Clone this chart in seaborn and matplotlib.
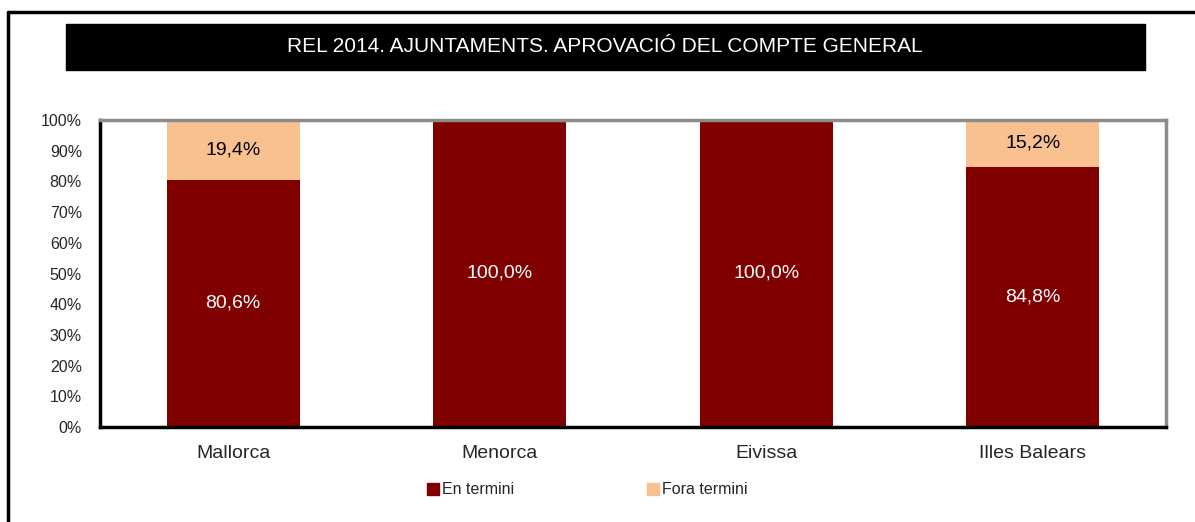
# REL 2014 - aprovació del compte general (ajuntaments)
import matplotlib
matplotlib.use("Agg")
import matplotlib.pyplot as plt
import seaborn as sns
import pandas as pd
from matplotlib.patches import Rectangle
from matplotlib.lines import Line2D

sns.set_style("white")
plt.rcParams["font.family"] = ["Liberation Sans", "DejaVu Sans"]

# Data
illes = ["Mallorca", "Menorca", "Eivissa", "Illes Balears"]
en_termini = [80.6, 100.0, 100.0, 84.8]
fora_termini = [19.4, 0.0, 0.0, 15.2]
title = "REL 2014. AJUNTAMENTS. APROVACIÓ DEL COMPTE GENERAL"

col_en = "#800000"
col_fora = "#F9C190"

df = pd.DataFrame({"illa": illes, "en": en_termini, "fora": fora_termini})
df["total"] = df["en"] + df["fora"]

fig = plt.figure(figsize=(11.95, 5.22), dpi=100)
ax = fig.add_axes([100 / 1195, 1 - 427 / 522, 1066 / 1195, 307 / 522])

# stacked bars: total (peach) first, then the dark red part over it
sns.barplot(data=df, x="illa", y="total", color=col_fora, width=0.5,
            saturation=1, ax=ax, linewidth=0)
sns.barplot(data=df, x="illa", y="en", color=col_en, width=0.5,
            saturation=1, ax=ax, linewidth=0)

# labels
for i, row in df.iterrows():
    ax.text(i, row["en"] / 2, f"{row['en']:.1f}%".replace(".", ","),
            ha="center", va="center", color="white", fontsize=14)
    if row["fora"] > 0:
        ax.text(i, row["en"] + row["fora"] / 2,
                f"{row['fora']:.1f}%".replace(".", ","),
                ha="center", va="center", color="black", fontsize=14)

ax.set_xlim(-0.5, len(illes) - 0.5)
ax.set_ylim(0, 100)
ax.set_yticks(range(0, 101, 10))
ax.set_yticklabels([f"{v}%" for v in range(0, 101, 10)], fontsize=11.5)
ax.set_xticks([i - 0.5 for i in range(len(illes) + 1)])
ax.set_xticklabels([])
ax.set_xticks(range(len(illes)), minor=True)
ax.set_xticklabels(illes, minor=True, fontsize=14)
ax.tick_params(axis="x", which="minor", length=0, pad=13)
ax.tick_params(axis="x", which="major", direction="out", length=5, width=2.5, color="black")
ax.tick_params(axis="y", direction="out", length=5, width=2.5, color="black", pad=8)
ax.set_xlabel("")
ax.set_ylabel("")

for side in ["left", "bottom"]:
    ax.spines[side].set_color("black")
    ax.spines[side].set_linewidth(2.5)
for side in ["top", "right"]:
    ax.spines[side].set_color("#8c8c8c")
    ax.spines[side].set_linewidth(2.5)

# legend
handles = [Rectangle((0, 0), 1, 1, color=col_en), Rectangle((0, 0), 1, 1, color=col_fora)]
fig.legend(handles, ["En termini", "Fora termini"], loc="center",
           bbox_to_anchor=(587 / 1195, 1 - 490 / 522), ncol=2, frameon=False,
           fontsize=11.5, handlelength=0.75, handleheight=0.75, handletextpad=0.2,
           columnspacing=8.3)

# title box
fig.patches.append(Rectangle((66 / 1195, 1 - 70 / 522), 1079 / 1195, 46 / 522,
                             transform=fig.transFigure, color="black", zorder=0))
fig.text(605 / 1195, 1 - 47 / 522, title, color="white", fontsize=15,
         ha="center", va="center")

# outer frame (top and left edges)
fig.lines.append(Line2D([8 / 1195, 1.0], [1 - 12 / 522] * 2, transform=fig.transFigure,
                        color="black", linewidth=2.5))
fig.lines.append(Line2D([8 / 1195] * 2, [0, 1 - 12 / 522], transform=fig.transFigure,
                        color="black", linewidth=2.5))

fig.savefig("out.png", dpi=100)
